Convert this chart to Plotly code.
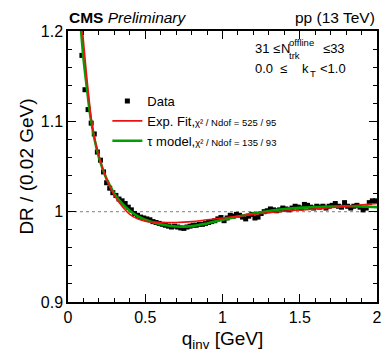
import plotly.graph_objects as go

# ---- data ----
q_bins = [round(0.01 + 0.02 * i, 2) for i in range(100)]
dr_data = [
    1.50, 1.38, 1.30, 1.23, 1.173, 1.135, 1.113, 1.098, 1.086, 1.066,
    1.057, 1.044, 1.032, 1.026, 1.021, 1.018, 1.014, 1.012, 1.009, 1.005,
    1.002, 0.998, 0.996, 0.994, 0.993, 0.992, 0.991, 0.989, 0.988, 0.987,
    0.986, 0.985, 0.984, 0.983, 0.984, 0.983, 0.982, 0.9815, 0.983, 0.984,
    0.985, 0.985, 0.986, 0.986, 0.987, 0.988, 0.989, 0.990, 0.992, 0.9935,
    0.990, 0.993, 0.996, 0.995, 0.997, 0.996, 0.994, 0.992, 0.995, 0.997,
    0.993, 0.994, 0.998, 1.000, 1.001, 1.003, 1.002, 1.001, 1.002, 1.004,
    1.003, 1.002, 1.004, 1.006, 1.005, 1.004, 1.008, 1.007, 1.005, 1.004,
    1.006, 1.005, 1.006, 1.004, 1.006, 1.007, 1.009, 1.006, 1.005, 1.010,
    1.006, 1.004, 1.006, 1.007, 1.005, 1.002, 1.004, 1.010, 1.012, 1.012,
]

q_exp = [0.08, 0.094, 0.11, 0.13, 0.16, 0.20, 0.25, 0.30, 0.35, 0.40, 0.45,
         0.50, 0.60, 0.70, 0.80, 0.90, 1.00, 1.20, 1.40, 1.60, 1.80, 2.00]
dr_exp = [1.225, 1.200, 1.170, 1.135, 1.092, 1.062, 1.036, 1.018, 1.006, 0.997, 0.992,
          0.9895, 0.988, 0.988, 0.989, 0.991, 0.993, 0.997, 1.0005, 1.003, 1.006, 1.009]

q_tau = [0.075, 0.085, 0.10, 0.12, 0.15, 0.20, 0.25, 0.30, 0.35, 0.40, 0.45,
         0.50, 0.60, 0.70, 0.80, 0.90, 1.00, 1.20, 1.40, 1.60, 1.80, 2.00]
dr_tau = [1.225, 1.200, 1.170, 1.140, 1.100, 1.060, 1.036, 1.020, 1.009, 1.001, 0.995,
          0.991, 0.986, 0.9835, 0.984, 0.987, 0.991, 0.998, 1.003, 1.005, 1.006, 1.005]

x_ticks = [0, 0.5, 1, 1.5, 2]
x_ticktext = ["0", "0.5", "1", "1.5", "2"]
y_ticks = [0.9, 1.0, 1.1, 1.2]
y_ticktext = ["0.9", "1", "1.1", "1.2"]

FONT = "Liberation Sans, Arial, Helvetica, sans-serif"

fig = go.Figure()
fig.add_trace(go.Scatter(
    x=q_bins, y=dr_data, mode="markers", name="Data", legendrank=1,
    marker=dict(symbol="square", size=5, color="black"),
))
fig.add_trace(go.Scatter(
    x=q_tau, y=dr_tau, mode="lines", legendrank=3,
    line=dict(color="#00a000", width=2.6, shape="spline"),
    name="τ model,<span style='font-size:9.5px'>χ² / Ndof = 135 / 93</span>",
))
fig.add_trace(go.Scatter(
    x=q_exp, y=dr_exp, mode="lines", legendrank=2,
    line=dict(color="#ee1111", width=1.6, shape="spline"),
    name="Exp. Fit,<span style='font-size:9.5px'>χ² / Ndof = 525 / 95</span>",
))

fig.add_shape(type="line", xref="x", yref="y", x0=0, x1=2, y0=1, y1=1,
              line=dict(color="#999999", width=1.2, dash="dot"), layer="below")

axis_common = dict(
    showline=True, linecolor="black", linewidth=1.5, mirror="ticks",
    ticks="inside", tickcolor="black", tickwidth=1, showgrid=False, zeroline=False,
    tickfont=dict(family=FONT, size=16, color="black"),
)
fig.update_xaxes(
    range=[0, 2], tickvals=x_ticks, ticktext=x_ticktext, ticklen=8,
    ticklabeloverflow="allow",
    minor=dict(ticks="inside", ticklen=4, dtick=0.1, tickcolor="black", showgrid=False),
    title=dict(text="q<sub>inv</sub> [GeV]", font=dict(family=FONT, size=19, color="black"), standoff=8),
    **axis_common,
)
fig.update_yaxes(
    range=[0.9, 1.2], tickvals=y_ticks, ticktext=y_ticktext, ticklen=8,
    minor=dict(ticks="inside", ticklen=4, dtick=0.02, tickcolor="black", showgrid=False),
    title=dict(text="DR / (0.02 GeV)", font=dict(family=FONT, size=19, color="black"), standoff=2),
    **axis_common,
)

def px_x(px):
    return (px - 68) / 314.0

def px_y(py):
    return (302 - py) / 271.0

annots = [
    ("<b>CMS</b> <i>Preliminary</i>", 68, 17, 15.5, "left"),
    ("pp (13 TeV)", 381, 17, 15.5, "right"),
    ("31", 257, 48, 13, "left"),
    ("≤", 275, 48, 13, "left"),
    ("N", 283, 48, 13, "left"),
    ("offline", 292, 42, 9.5, "left"),
    ("trk", 292, 56, 9.5, "left"),
    ("≤33", 326, 48, 13, "left"),
    ("0.0", 257, 68, 13, "left"),
    ("≤", 282, 68, 13, "left"),
    ("k", 305, 68, 13, "left"),
    ("T", 313, 73, 9.5, "left"),
    ("&lt;1.0", 323, 68, 13, "left"),
]
for text, ax, ay, size, anchor in annots:
    fig.add_annotation(text=text, xref="paper", yref="paper", x=px_x(ax), y=px_y(ay),
                       xanchor=anchor, yanchor="middle", showarrow=False,
                       font=dict(family=FONT, size=size, color="black"), borderpad=0)

fig.update_layout(
    width=383, height=352,
    margin=dict(l=68, r=1, t=31, b=50),
    paper_bgcolor="white", plot_bgcolor="white",
    font=dict(family=FONT, color="black"),
    showlegend=True,
    legend=dict(x=px_x(108), y=px_y(86), xanchor="left", yanchor="top",
                bgcolor="rgba(0,0,0,0)", font=dict(family=FONT, size=13, color="black"),
                tracegroupgap=0, itemwidth=30),
)

fig.write_html("out.html")
